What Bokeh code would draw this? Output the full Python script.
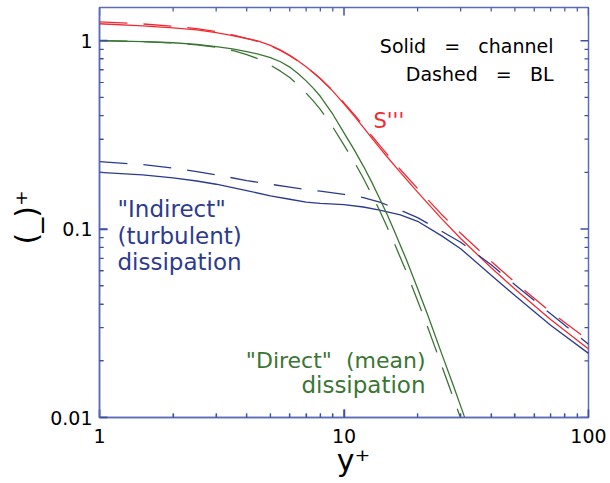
from math import log10
from bokeh.plotting import figure
from bokeh.models import Range1d, FixedTicker, CustomJSTickFormatter, Label, ColumnDataSource
from bokeh.embed import file_html
from bokeh.resources import INLINE

# ---------------- data ----------------
x_red = [1, 1.5, 2, 2.5, 3, 3.5, 4, 4.5, 5, 5.5, 6, 6.5, 7, 7.5, 8, 9, 10, 11, 12, 13,
         14, 15, 17, 20, 25, 30, 40, 50, 70, 100]
s3_channel = [1.230, 1.199, 1.169, 1.140, 1.104, 1.064, 1.026, 0.991, 0.944, 0.891,
              0.836, 0.780, 0.728, 0.676, 0.628, 0.540, 0.462, 0.399, 0.347, 0.304,
              0.270, 0.242, 0.200, 0.157, 0.114, 0.0891, 0.0624, 0.0481, 0.0331, 0.0231]
s3_bl = [1.259, 1.227, 1.194, 1.159, 1.117, 1.072, 1.028, 0.989, 0.940, 0.887,
         0.832, 0.778, 0.726, 0.676, 0.630, 0.543, 0.468, 0.406, 0.354, 0.312,
         0.278, 0.250, 0.207, 0.164, 0.120, 0.0951, 0.0673, 0.0522, 0.0363, 0.0257]

x_blue = [1, 1.5, 2, 2.5, 3, 4, 5, 6, 7, 8, 10, 12, 14, 17, 20, 25, 30, 40, 50, 70, 100]
indirect_channel = [0.200, 0.194, 0.187, 0.180, 0.173, 0.160, 0.150, 0.144, 0.139, 0.137,
                    0.135, 0.131, 0.126, 0.119, 0.110, 0.0923, 0.0787, 0.0569, 0.0444,
                    0.0309, 0.0219]
indirect_bl = [0.228, 0.220, 0.211, 0.202, 0.194, 0.181, 0.173, 0.167, 0.162, 0.159,
               0.153, 0.147, 0.139, 0.126, 0.115, 0.0977, 0.0851, 0.0646, 0.0507,
               0.0355, 0.0245]

x_green = [1, 1.5, 2, 2.5, 3, 3.5, 4, 4.5, 5, 5.5, 6, 6.5, 7, 7.5, 8, 9, 10, 11, 12,
           13, 14, 15, 16, 18, 20, 22, 25, 28, 31, 34]
direct_channel = [1.0, 0.989, 0.975, 0.955, 0.931, 0.904, 0.875, 0.847, 0.813, 0.773,
                  0.724, 0.668, 0.612, 0.558, 0.507, 0.407, 0.324, 0.264, 0.216, 0.177,
                  0.145, 0.120, 0.0989, 0.0687, 0.0484, 0.0350, 0.0221, 0.0148, 0.0102,
                  0.0073]
direct_bl = [1.0, 0.989, 0.973, 0.951, 0.923, 0.887, 0.843, 0.798, 0.741, 0.689,
             0.637, 0.581, 0.527, 0.478, 0.432, 0.348, 0.279, 0.228, 0.186, 0.152,
             0.125, 0.103, 0.0851, 0.0592, 0.0417, 0.0301, 0.0191, 0.0127, 0.0088,
             0.0063]

x_ticks = [1, 10, 100]
y_ticks = [0.01, 0.1, 1]
x_minor = [m * d for d in (1, 10) for m in range(2, 10)]
y_minor = [m * d for d in (0.01, 0.1, 1) for m in range(2, 10)]

X_MIN, X_MAX = 1, 100
Y_MIN, Y_MAX = 0.01, 1.5

# ---------------- style ----------------
FRAME = "#5b6bb6"
TICK = "#3f4fa6"
RED = "#f02a32"
BLUE = "#2c3b8e"
GREEN = "#3b7534"
FONT = "DejaVu Sans"
NB = "\u00a0"

FL, FT, FW, FH = 99, 7, 489, 410   # frame left/top/width/height in page px

p = figure(frame_width=FW, frame_height=FH, x_axis_type="log", y_axis_type="log",
           x_range=Range1d(X_MIN, X_MAX), y_range=Range1d(Y_MIN, Y_MAX),
           output_backend="svg", toolbar_location=None,
           min_border_left=FL, min_border_top=FT,
           min_border_right=610 - FL - FW, min_border_bottom=483 - FT - FH,
           background_fill_color="white", border_fill_color="white")
p.grid.visible = False
p.outline_line_color = FRAME
p.outline_line_width = 1.5

fmt = CustomJSTickFormatter(code="return String(tick);")


def style_axis(ax, ticks, minors, standoff):
    ax.ticker = FixedTicker(ticks=ticks, minor_ticks=minors)
    ax.formatter = fmt
    ax.axis_line_color = FRAME
    ax.axis_line_width = 1.5
    ax.major_tick_line_color = TICK
    ax.minor_tick_line_color = TICK
    ax.major_tick_line_width = 1.5
    ax.minor_tick_line_width = 1.2
    ax.major_tick_in = 8
    ax.major_tick_out = 0
    ax.minor_tick_in = 4
    ax.minor_tick_out = 0
    ax.major_label_text_font = FONT
    ax.major_label_text_color = "black"
    ax.major_label_text_font_size = "19px"
    ax.major_label_standoff = standoff
    ax.axis_label_text_font = FONT
    ax.axis_label_text_font_style = "normal"
    ax.axis_label_text_color = "black"
    ax.axis_label_text_font_size = "30px"


style_axis(p.xaxis[0], x_ticks, x_minor, 11)
style_axis(p.yaxis[0], y_ticks, y_minor, 7)
p.xaxis[0].axis_label = NB * 2 + "y\u207a"
p.xaxis[0].axis_label_standoff = -3
p.yaxis[0].axis_label = "(_)\u207a" + NB
p.yaxis[0].axis_label_standoff = 3

# ---- inward tick marks on top and right sides (drawn from the tick lists) ----
kx = log10(X_MAX / X_MIN) / FW   # decades per pixel
ky = log10(Y_MAX / Y_MIN) / FH


def tick_marks(xt, yt, length, width):
    fx = 10 ** (length * kx)
    fy = 10 ** (length * ky)
    n, m = len(xt), len(yt)
    src = ColumnDataSource(dict(
        x0=[float(v) for v in xt + xt] + [float(X_MIN)] * m + [float(X_MAX)] * m,
        x1=[float(v) for v in xt + xt] + [X_MIN * fx] * m + [X_MAX / fx] * m,
        y0=[float(Y_MIN)] * n + [float(Y_MAX)] * n + [float(v) for v in yt + yt],
        y1=[Y_MIN * fy] * n + [Y_MAX / fy] * n + [float(v) for v in yt + yt],
    ))
    p.segment(x0="x0", y0="y0", x1="x1", y1="y1", source=src,
              line_color=TICK, line_width=width)


tick_marks(x_ticks, y_ticks, 8, 1.5)
tick_marks(x_minor, y_minor, 4, 1.2)

DASH = "28 16"
LW = 1.3
p.line(x_red, s3_channel, line_color=RED, line_width=LW)
p.line(x_red, s3_bl, line_color=RED, line_width=LW, line_dash=DASH)
p.line(x_blue, indirect_channel, line_color=BLUE, line_width=LW)
p.line(x_blue, indirect_bl, line_color=BLUE, line_width=LW, line_dash=DASH)
p.line(x_green, direct_channel, line_color=GREEN, line_width=LW)
p.line(x_green, direct_bl, line_color=GREEN, line_width=LW, line_dash=DASH)


def lab(text, px, py, color, size, align="left", baseline="alphabetic"):
    p.add_layout(Label(x=px - FL, y=FT + FH - py, x_units="screen", y_units="screen",
                       text=text, text_color=color, text_font=FONT,
                       text_font_size=size, text_align=align,
                       text_baseline=baseline))


lab("Solid" + NB * 3 + "=" + NB * 3 + "channel", 553, 45, "black", "19px", "right")
lab("Dashed" + NB * 3 + "=" + NB * 3 + "BL", 553, 73, "black", "19px", "right")
lab("S'''", 373, 120, RED, "21px")
lab('"Indirect"', 117, 208, BLUE, "23px")
lab("(turbulent)", 117, 235, BLUE, "23px")
lab("dissipation", 117, 261, BLUE, "23px")
lab('"Direct"' + NB * 2 + "(mean)", 425, 360, GREEN, "22px", "right")
lab("dissipation", 425, 384, GREEN, "23px", "right")

open("out.html", "w").write(file_html(p, INLINE))
